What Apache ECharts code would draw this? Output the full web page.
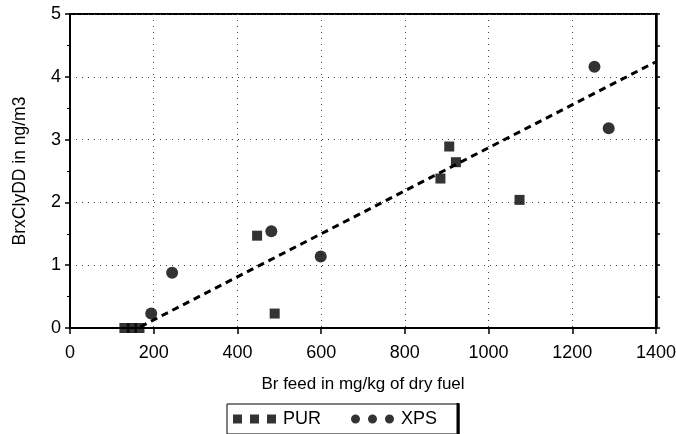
<!DOCTYPE html>
<html>
<head>
<meta charset="utf-8">
<script src="https://cdn.jsdelivr.net/npm/echarts@6/dist/echarts.min.js"></script>
<style>html,body{margin:0;padding:0;background:#fff}#c{width:676px;height:434px}</style>
</head>
<body>
<div id="c"></div>
<script>
var xTicks = [0, 200, 400, 600, 800, 1000, 1200, 1400];
var yTicks = [0, 1, 2, 3, 4, 5];
var purX = [130, 148, 166, 447, 489, 885, 906, 922, 1074];
var purY = [0, 0, 0, 1.47, 0.23, 2.38, 2.89, 2.64, 2.04];
var xpsX = [194, 244, 481, 599, 1253, 1287];
var xpsY = [0.23, 0.88, 1.54, 1.14, 4.16, 3.18];
var trendX = [168, 1400];
var trendY = [0.02, 4.24];

function pairs(a, b) { return a.map(function (v, i) { return [v, b[i]]; }); }

var chart = echarts.init(document.getElementById('c'), null, { renderer: 'canvas' });
var font = 'Liberation Sans, Arial, sans-serif';
var sq = 'path://M0,0H9V9H0Z M17,0H26V9H17Z M34,0H43V9H34Z';
var ci = 'path://M4.5,0A4.5,4.5,0,1,1,4.5,9A4.5,4.5,0,1,1,4.5,0Z M21.5,0A4.5,4.5,0,1,1,21.5,9A4.5,4.5,0,1,1,21.5,0Z M38.5,0A4.5,4.5,0,1,1,38.5,9A4.5,4.5,0,1,1,38.5,0Z';
chart.setOption({
  animation: false,
  backgroundColor: '#fff',
  grid: { left: 70, right: 20, top: 14, bottom: 106, show: true, borderColor: '#000', borderWidth: 2, outerBoundsMode: 'none', containLabel: false },
  xAxis: {
    type: 'value', min: xTicks[0], max: xTicks[xTicks.length - 1], interval: 200,
    name: 'Br feed in mg/kg of dry fuel', nameLocation: 'middle', nameGap: 48,
    nameTextStyle: { fontFamily: font, fontSize: 17, color: '#000' },
    axisLine: { lineStyle: { color: '#000', width: 2 } },
    axisTick: { length: 6, lineStyle: { color: '#000', width: 1.5 } },
    axisLabel: { fontFamily: font, fontSize: 18, color: '#000', margin: 16, formatter: function (v) { return String(v); } },
    splitLine: { show: true, lineStyle: { color: '#444', width: 1, type: [1, 5] } }
  },
  yAxis: [{
    type: 'value', min: yTicks[0], max: yTicks[yTicks.length - 1], interval: 1,
    name: 'BrxClyDD in ng/m3', nameLocation: 'middle', nameGap: 41,
    nameTextStyle: { fontFamily: font, fontSize: 17.5, color: '#000' },
    axisLine: { show: true, lineStyle: { color: '#000', width: 2 } },
    axisTick: { length: 5, lineStyle: { color: '#000', width: 1.5 } },
    minorTick: { show: true, splitNumber: 2, length: 3, lineStyle: { color: '#000' } },
    axisLabel: { fontFamily: font, fontSize: 18, color: '#000', margin: 9 },
    splitLine: { show: true, lineStyle: { color: '#444', width: 1, type: [1, 5] } }
  }, {
    type: 'value', min: yTicks[0], max: yTicks[yTicks.length - 1], interval: 0.5, position: 'right',
    axisLine: { show: true, lineStyle: { color: '#000', width: 2.5 } },
    axisTick: { show: true, length: 4, lineStyle: { color: '#000', width: 1.5 } },
    axisLabel: { show: false }, splitLine: { show: false }
  }],
  legend: {
    left: 227, top: 404, orient: 'horizontal', itemGap: 30,
    padding: [6, 22, 6, 6], borderColor: '#000', borderWidth: 1,
    itemWidth: 43, itemHeight: 9, icon: 'rect',
    textStyle: { fontFamily: font, fontSize: 18, color: '#000', padding: [0, 0, 0, 2] },
    data: [{ name: 'PUR', icon: sq }, { name: 'XPS', icon: ci }]
  },
  graphic: [{ type: 'line', shape: { x1: 458, y1: 403, x2: 458, y2: 434 }, style: { stroke: '#000', lineWidth: 3 } }],
  series: [
    { name: 'PUR', type: 'scatter', symbol: 'rect', symbolSize: 10, itemStyle: { color: '#000' }, data: pairs(purX, purY), z: 5 },
    { name: 'XPS', type: 'scatter', symbol: 'circle', symbolSize: 12, itemStyle: { color: '#000' }, data: pairs(xpsX, xpsY), z: 5 },
    { name: 'trend', type: 'line', symbol: 'none', data: pairs(trendX, trendY),
      lineStyle: { color: '#000', width: 3, type: [7, 5] }, z: 4 }
  ]
});
</script>
</body>
</html>
